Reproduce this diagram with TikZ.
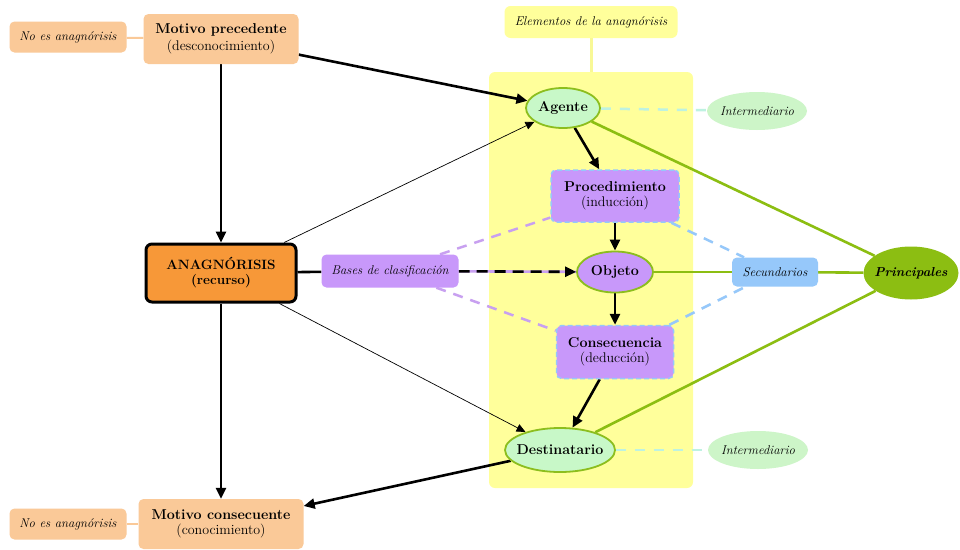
\documentclass[tikz,border=0pt]{standalone}
\usetikzlibrary{shapes.geometric,arrows.meta}
\pgfdeclarelayer{bg}
\pgfdeclarelayer{edges}
\pgfsetlayers{bg,edges,main}
\definecolor{lorange}{RGB}{250,201,152}
\definecolor{dorange}{RGB}{247,152,56}
\definecolor{yel}{RGB}{255,255,155}
\definecolor{yelline}{RGB}{248,248,150}
\definecolor{lgreen}{RGB}{200,248,200}
\definecolor{igreen}{RGB}{205,245,200}
\definecolor{gborder}{RGB}{140,190,30}
\definecolor{purp}{RGB}{200,152,250}
\definecolor{lpurp}{RGB}{200,160,240}
\definecolor{lblue}{RGB}{150,200,250}
\definecolor{pgreen}{RGB}{140,190,18}
\definecolor{lcyan}{RGB}{190,242,225}
\newcommand{\bigb}{\fontsize{14.3}{16}\selectfont\bfseries}
\newcommand{\regl}{\fontsize{14}{16}\selectfont\mdseries}
\newcommand{\smit}{\fontsize{12.7}{14}\selectfont\itshape}
\begin{document}
\begin{tikzpicture}[x=1pt,y=-1pt,
  obox/.style={fill=lorange,rounded corners=5pt,align=center,inner sep=0pt},
  ell/.style={ellipse,fill=lgreen,draw=gborder,line width=1.8pt,inner sep=0pt},
  iell/.style={ellipse,fill=igreen,inner sep=0pt,inner xsep=-3pt,minimum width=100pt,minimum height=38pt},
  pbox/.style={fill=purp,draw=lblue,line width=1.5pt,dash pattern=on 5pt off 3pt,rounded corners=5pt,align=center,inner sep=0pt},
  arr/.style={line width=2.6pt,-{Triangle[length=11pt,width=10pt]}},
  tarr/.style={line width=0.7pt,-{Triangle[length=9pt,width=8pt]}},
  gline/.style={pgreen,line width=2.6pt},
  cdash/.style={lcyan,line width=2.5pt,dash pattern=on 10pt off 9pt},
  pdash/.style={lpurp,line width=2.5pt,dash pattern=on 10pt off 8pt},
  bdash/.style={lblue,line width=2.5pt,dash pattern=on 10pt off 8pt}
]
\useasboundingbox (0,0) rectangle (960,549);
\begin{pgfonlayer}{bg}
  \fill[white] (0,0) rectangle (960,549);
  \fill[yel,rounded corners=6pt] (489,72) rectangle (693,488);
\end{pgfonlayer}

% left column
\node[obox,minimum width=117pt,minimum height=31pt] (ne1) at (68,37) {\smit No es anagnórisis};
\node[obox,minimum width=155pt,minimum height=50pt] (mp) at (221,39) {\bigb Motivo precedente\\[3pt]\regl (desconocimiento)};
\node[fill=dorange,draw=black,line width=3pt,rounded corners=6pt,minimum width=150pt,minimum height=58pt,align=center,inner sep=0pt] (ana) at (221,273) {\fontsize{13.5}{16}\selectfont\bfseries ANAGNÓRISIS\\[3pt]\fontsize{13.5}{16}\selectfont\bfseries (recurso)};
\node[fill=purp,rounded corners=5pt,minimum width=137pt,minimum height=33pt,inner sep=0pt] (bas) at (390,271) {\smit Bases de clasificación};
\node[obox,minimum width=165pt,minimum height=50pt] (mc) at (221,524) {\bigb Motivo consecuente\\[3pt]\regl (conocimiento)};
\node[obox,minimum width=117pt,minimum height=31pt] (ne2) at (68,524) {\smit No es anagnórisis};

% middle column
\node[fill=yel,rounded corners=6pt,minimum width=173pt,minimum height=32pt,inner sep=0pt] (el) at (591,22) {\smit Elementos de la anagnórisis};
\node[ell,minimum width=74pt,minimum height=40pt] (ag) at (563,108) {\bigb Agente};
\node[pbox,minimum width=128pt,minimum height=52pt] (pr) at (615,196) {\bigb Procedimiento\\[3pt]\regl (inducción)};
\node[ell,fill=purp,minimum width=76pt,minimum height=41pt] (ob) at (615,272) {\bigb Objeto};
\node[pbox,minimum width=117pt,minimum height=53pt] (co) at (615,352) {\bigb Consecuencia\\[3pt]\regl (deducción)};
\node[ell,inner xsep=-9pt,minimum width=110pt,minimum height=44pt] (de) at (560,450) {\bigb Destinatario};

% right column
\node[iell] (i1) at (757,111) {\smit Intermediario};
\node[iell] (i2) at (758,450) {\smit Intermediario};
\node[fill=lblue,rounded corners=5pt,minimum width=86pt,minimum height=29pt,inner sep=0pt] (se) at (775,272) {\smit Secundarios};
\node[ellipse,fill=pgreen,inner sep=0pt,inner xsep=-3pt,minimum width=95pt,minimum height=53pt] (pc) at (911,273) {\fontsize{13}{15}\selectfont\bfseries\itshape Principales};

\begin{pgfonlayer}{edges}
  \draw[lorange,line width=2pt] (ne1) -- (mp);
  \draw[lorange,line width=2pt] (ne2) -- (mc);
  \draw[yelline,line width=3pt] (el.south) -- (591,72);
  % purple/blue dashed
  \draw[pdash] (bas) -- (pr);
  \draw[pdash] (bas) -- (co);
  \draw[bdash] (pr) -- (se);
  \draw[bdash] (co) -- (se);
  \draw[cdash] (ag) -- (i1);
  \draw[cdash] (de) -- (i2);
  % green
  \draw[gline] (ag) -- (pc);
  \draw[gline] (de) -- (pc);
  \draw[gline] (ob) -- (se);
  \draw[gline] (se) -- (pc);
  % black
  \draw[arr] (mp) -- (ag);
  \draw[arr] (mp) -- (ana);
  \draw[arr] (ana) -- (mc);
  \draw[tarr] (ana) -- (ag);
  \draw[tarr] (ana) -- (de);
  \draw[black,line width=2.6pt] (ana) -- (bas);
  \draw[lpurp,line width=2.6pt] (bas) -- (ob);
  \draw[arr,dash pattern=on 11pt off 7pt] (bas) -- (ob);
  \draw[arr] (ag) -- (pr);
  \draw[arr] (pr) -- (ob);
  \draw[arr] (ob) -- (co);
  \draw[arr] (co) -- (de);
  \draw[arr] (de) -- (mc);
\end{pgfonlayer}
\end{tikzpicture}
\end{document}
